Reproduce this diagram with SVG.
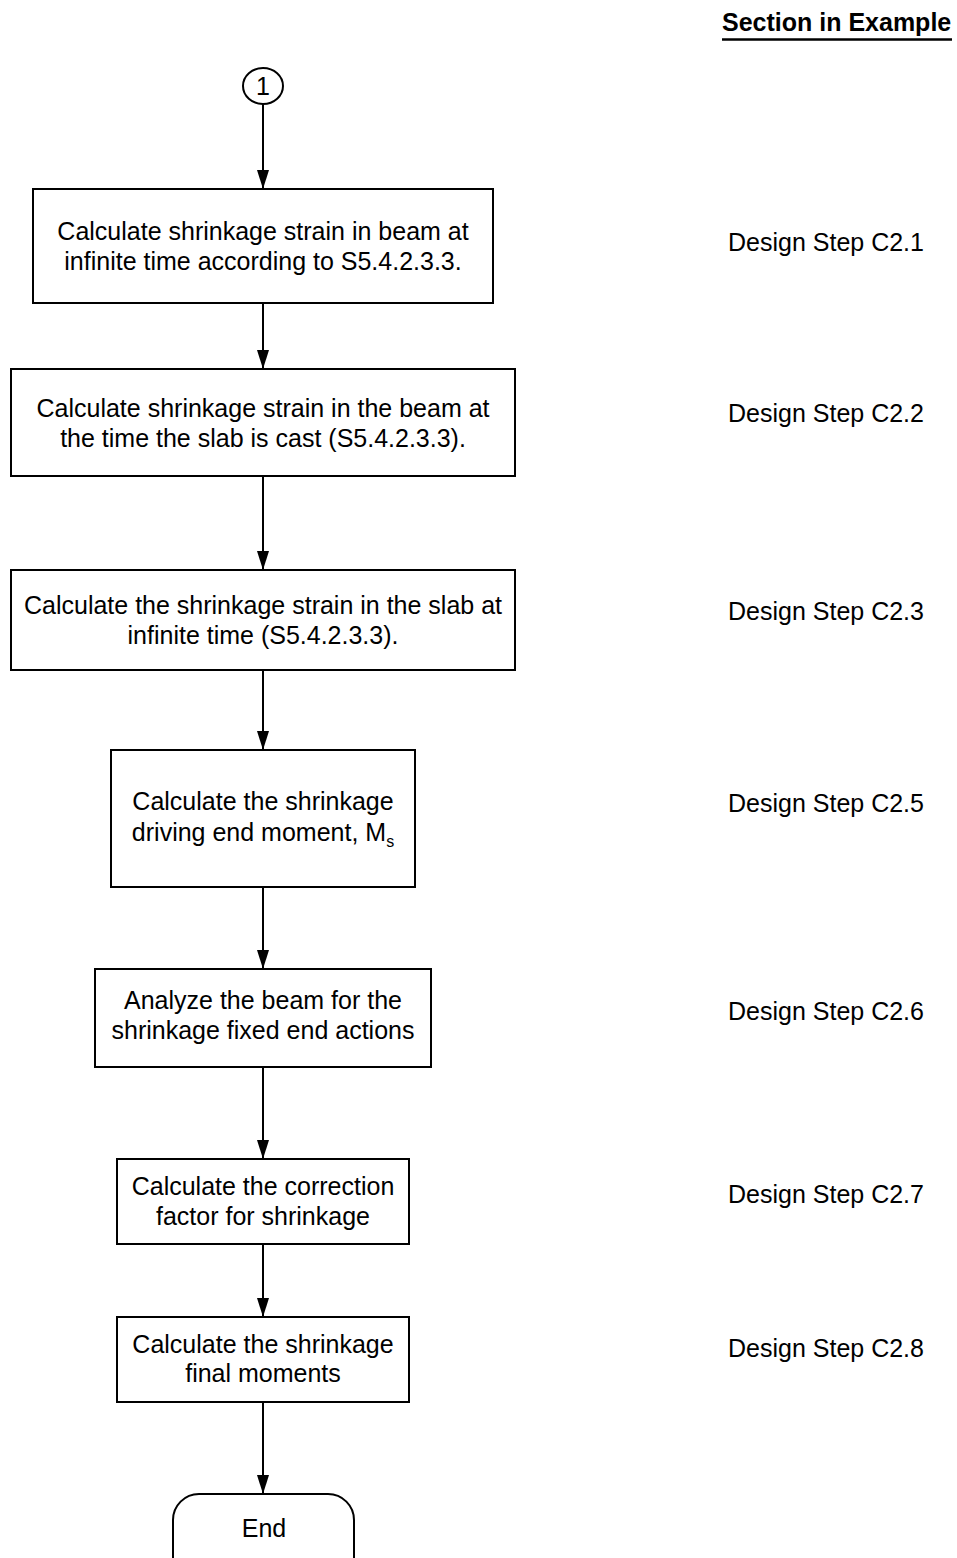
<svg xmlns="http://www.w3.org/2000/svg" width="957" height="1558" viewBox="0 0 957 1558">
<style>
.box{fill:#fff;stroke:#000;stroke-width:2}
.t{font-family:"Liberation Sans",Arial,sans-serif;font-size:25px;fill:#000;text-anchor:middle}
.s{font-family:"Liberation Sans",Arial,sans-serif;font-size:25px;fill:#000}
.c{stroke:#000;stroke-width:2;fill:none;marker-end:url(#ah)}
</style>
<defs>
<marker id="ah" markerUnits="userSpaceOnUse" markerWidth="19" markerHeight="14" refX="19" refY="7" orient="auto" viewBox="0 0 19 14">
<path d="M0,1 L19,7 L0,13 Z" fill="#000"/>
</marker>
</defs>
<g id="header">
<text x="722" y="31" style="font-family:'Liberation Sans',Arial,sans-serif;font-size:25px;font-weight:bold">Section in Example</text>
<line x1="722" y1="39.5" x2="952" y2="39.5" stroke="#000" stroke-width="2.5"/>
</g>
<g id="connectors">
<line class="c" x1="263" y1="104" x2="263" y2="189"/>
<line class="c" x1="263" y1="303" x2="263" y2="369"/>
<line class="c" x1="263" y1="476" x2="263" y2="570"/>
<line class="c" x1="263" y1="670" x2="263" y2="750"/>
<line class="c" x1="263" y1="887" x2="263" y2="969"/>
<line class="c" x1="263" y1="1067" x2="263" y2="1159"/>
<line class="c" x1="263" y1="1244" x2="263" y2="1317"/>
<line class="c" x1="263" y1="1402" x2="263" y2="1494"/>
</g>
<g id="start">
<ellipse cx="263" cy="86" rx="20" ry="18" class="box"/>
<text class="t" x="263" y="95">1</text>
</g>
<g id="n1">
<rect class="box" x="33" y="189" width="460" height="114"/>
<text class="t" x="263" y="240">Calculate shrinkage strain in beam at</text>
<text class="t" x="263" y="270">infinite time according to S5.4.2.3.3.</text>
</g>
<g id="n2">
<rect class="box" x="11" y="369" width="504" height="107"/>
<text class="t" x="263" y="417">Calculate shrinkage strain in the beam at</text>
<text class="t" x="263" y="447">the time the slab is cast (S5.4.2.3.3).</text>
</g>
<g id="n3">
<rect class="box" x="11" y="570" width="504" height="100"/>
<text class="t" x="263" y="614">Calculate the shrinkage strain in the slab at</text>
<text class="t" x="263" y="644">infinite time (S5.4.2.3.3).</text>
</g>
<g id="n4">
<rect class="box" x="111" y="750" width="304" height="137"/>
<text class="t" x="263" y="810">Calculate the shrinkage</text>
<text class="t" x="263" y="841">driving end moment, M<tspan font-size="16" dy="6">s</tspan></text>
</g>
<g id="n5">
<rect class="box" x="95" y="969" width="336" height="98"/>
<text class="t" x="263" y="1009">Analyze the beam for the</text>
<text class="t" x="263" y="1039">shrinkage fixed end actions</text>
</g>
<g id="n6">
<rect class="box" x="117" y="1159" width="292" height="85"/>
<text class="t" x="263" y="1195">Calculate the correction</text>
<text class="t" x="263" y="1225">factor for shrinkage</text>
</g>
<g id="n7">
<rect class="box" x="117" y="1317" width="292" height="85"/>
<text class="t" x="263" y="1353">Calculate the shrinkage</text>
<text class="t" x="263" y="1382">final moments</text>
</g>
<g id="end">
<rect class="box" x="173" y="1494" width="181" height="100" rx="26" ry="26"/>
<text class="t" x="264" y="1537">End</text>
</g>
<g id="labels">
<text class="s" x="728" y="251">Design Step C2.1</text>
<text class="s" x="728" y="422">Design Step C2.2</text>
<text class="s" x="728" y="620">Design Step C2.3</text>
<text class="s" x="728" y="812">Design Step C2.5</text>
<text class="s" x="728" y="1020">Design Step C2.6</text>
<text class="s" x="728" y="1203">Design Step C2.7</text>
<text class="s" x="728" y="1357">Design Step C2.8</text>
</g>
</svg>
